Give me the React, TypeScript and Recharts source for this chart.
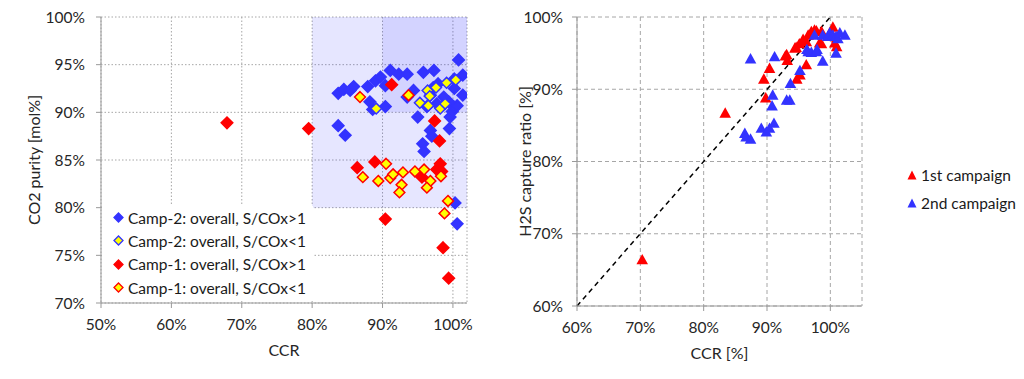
import React from "react";
import {
  CartesianGrid,
  Legend,
  ReferenceArea,
  ReferenceLine,
  Scatter,
  ScatterChart,
  XAxis,
  YAxis,
} from "recharts";

const FONT = "Lato, 'Open Sans', sans-serif";

// left chart: CCR [%] vs CO2 purity [mol%]
const camp2High: [number, number][] = [
  [83.7, 92.0], [84.5, 92.4], [85.4, 92.3], [85.9, 92.7], [87.9, 92.7], [89.0, 93.3],
  [89.7, 93.7], [91.1, 94.4], [92.3, 94.0], [93.5, 94.0], [95.8, 94.2], [97.3, 94.4],
  [100.8, 95.5], [101.4, 93.9], [101.4, 91.8], [100.2, 93.5], [100.2, 92.5], [90.4, 92.8],
  [88.2, 91.1], [88.6, 90.3], [90.4, 90.6], [95.0, 89.5], [83.7, 88.6], [84.7, 87.6],
  [95.7, 86.7], [95.9, 85.9], [96.8, 88.1], [97.0, 87.5], [99.5, 88.3], [99.6, 89.5],
  [99.9, 90.1], [100.1, 90.6], [100.6, 90.7], [99.4, 91.1], [98.7, 91.6], [97.7, 90.9],
  [97.9, 93.0], [97.2, 92.6], [94.4, 92.3], [93.5, 91.6], [96.3, 90.6], [96.8, 91.8],
  [100.3, 80.5], [100.6, 78.3],
];
const camp2Low: [number, number][] = [
  [89.1, 90.4], [95.3, 91.0], [96.4, 92.3], [96.7, 91.7], [96.5, 90.7], [97.6, 92.6],
  [98.2, 90.4], [98.9, 90.9], [99.1, 93.1], [100.4, 93.4],
];
const camp1High: [number, number][] = [
  [67.9, 88.9], [79.5, 88.3], [91.3, 92.9], [97.4, 89.1], [98.1, 87.0], [86.4, 84.2],
  [88.9, 84.8], [90.4, 78.8], [98.6, 75.8], [99.4, 72.6], [98.2, 84.6], [98.4, 83.8],
  [97.7, 84.0], [95.6, 83.2],
];
const camp1Low: [number, number][] = [
  [86.8, 91.6], [93.7, 91.8], [87.2, 83.2], [89.4, 82.8], [90.5, 84.6], [91.1, 83.1],
  [91.5, 83.5], [92.9, 83.7], [92.7, 82.4], [92.4, 81.6], [94.6, 83.8], [95.9, 84.0],
  [96.8, 82.8], [96.3, 82.1], [98.3, 83.3], [99.3, 80.7], [98.8, 79.4],
];
const leftNames = [
  "Camp-2: overall, S/COx>1",
  "Camp-2: overall, S/COx<1",
  "Camp-1: overall, S/COx>1",
  "Camp-1: overall, S/COx<1",
];
const leftXTicks = [50, 60, 70, 80, 90, 100];
const leftYTicks = [70, 75, 80, 85, 90, 95, 100];

// right chart: CCR [%] vs H2S capture ratio [%]
const campaign1: [number, number][] = [
  [70.3, 66.4], [83.4, 86.7], [89.8, 88.8], [89.5, 91.4], [90.4, 92.9], [92.9, 94.6],
  [93.2, 94.0], [93.1, 94.8], [94.4, 95.7], [94.6, 95.8], [95.1, 96.3], [95.7, 96.9],
  [96.2, 96.6], [96.5, 97.5], [97.0, 98.0], [97.5, 98.2], [97.8, 98.1], [98.6, 98.0],
  [98.3, 96.4], [98.6, 96.3], [100.4, 98.6], [100.7, 96.4], [101.0, 97.1], [101.0, 95.9],
  [96.2, 93.4], [95.2, 92.0], [94.7, 91.4],
];
const campaign2: [number, number][] = [
  [87.4, 94.2], [91.2, 94.5], [93.7, 90.8], [90.9, 89.2], [90.8, 87.7], [93.1, 88.5],
  [93.6, 88.5], [89.1, 84.6], [86.5, 83.9], [86.7, 83.4], [87.4, 83.1], [89.9, 84.1],
  [90.4, 84.6], [91.1, 85.3], [95.2, 92.6], [96.3, 95.5], [97.0, 95.1], [97.9, 95.5],
  [98.8, 93.9], [97.5, 97.5], [98.8, 97.5], [99.6, 97.3], [99.9, 97.8], [100.4, 97.5],
  [100.9, 97.3], [100.9, 95.0], [101.2, 97.0], [102.3, 97.5], [101.5, 97.8], [96.5, 95.2],
  [97.8, 95.2],
];
const rightNames = ["1st campaign", "2nd campaign"];
const rightTicks = [60, 70, 80, 90, 100];

const BLUE = "#3333ff";
const RED = "#ff0000";
const YELLOW = "#ffff00";

const pts = (a: [number, number][]) => a.map(([x, y]) => ({ x, y }));
const pct = (v: number) => `${v}%`;

const diamond = (fill: string, stroke: string, r: number) => (p: any) => {
  const { cx, cy } = p;
  if (cx == null || cy == null) return <g />;
  return (
    <polygon
      points={`${cx},${cy - r} ${cx + r},${cy} ${cx},${cy + r} ${cx - r},${cy}`}
      fill={fill}
      stroke={stroke}
      strokeWidth={1.5}
    />
  );
};

const triangle = (fill: string) => (p: any) => {
  const { cx, cy } = p;
  if (cx == null || cy == null) return <g />;
  return (
    <polygon
      points={`${cx},${cy - 5.8} ${cx + 5.8},${cy + 4.6} ${cx - 5.8},${cy + 4.6}`}
      fill={fill}
    />
  );
};

const leftStyles = [
  { fill: BLUE, stroke: BLUE },
  { fill: YELLOW, stroke: BLUE },
  { fill: RED, stroke: RED },
  { fill: YELLOW, stroke: RED },
];
const rightColors = [RED, BLUE];

const tickStyle = { fill: "#262626", fontSize: 15.5, fontFamily: FONT };
const labelStyle = { fill: "#262626", fontSize: 16, fontFamily: FONT, textAnchor: "middle" as const };

function LeftLegend() {
  return (
    <div style={{ background: "#fff", width: 211, height: 95, fontFamily: FONT, fontSize: 15.5, color: "#1a1a1a" }}>
      {leftNames.map((n, i) => (
        <div key={n} style={{ height: 23.3, display: "flex", alignItems: "center", whiteSpace: "nowrap" }}>
          <svg width={11} height={11} style={{ marginLeft: 11, marginRight: 4 }}>
            <polygon points="5.5,1 10,5.5 5.5,10 1,5.5" fill={leftStyles[i].fill} stroke={leftStyles[i].stroke} strokeWidth={1.3} />
          </svg>
          {n}
        </div>
      ))}
    </div>
  );
}

function RightLegend() {
  return (
    <div style={{ fontFamily: FONT, fontSize: 15.5, color: "#1a1a1a" }}>
      {rightNames.map((n, i) => (
        <div key={n} style={{ height: 28, display: "flex", alignItems: "center", whiteSpace: "nowrap" }}>
          <svg width={10} height={10} style={{ marginRight: 4 }}>
            <polygon points="5,0.5 9.5,9.5 0.5,9.5" fill={rightColors[i]} />
          </svg>
          {n}
        </div>
      ))}
    </div>
  );
}

export default function App() {
  return (
    <div style={{ position: "absolute", left: 0, top: 0, width: 1024, height: 379, background: "#fff" }}>
      <div style={{ position: "absolute", left: 0, top: 0 }}>
        <ScatterChart width={480} height={379} margin={{ top: 17, right: 13, bottom: 46, left: 0 }}>
          <CartesianGrid stroke="#a6a6a6" strokeDasharray="1.5 2" />
          <ReferenceArea x1={80} x2={102} y1={80} y2={100} fill={BLUE} fillOpacity={0.12} stroke="none" />
          <ReferenceArea x1={90} x2={102} y1={90} y2={100} fill={BLUE} fillOpacity={0.1} stroke="none" />
          <XAxis
            type="number"
            dataKey="x"
            domain={[50, 102]}
            ticks={leftXTicks}
            tickFormatter={pct}
            height={30}
            axisLine={{ stroke: "#999" }}
            tickLine={{ stroke: "#999" }}
            tickSize={5}
            tickMargin={11}
            tick={tickStyle}
            allowDataOverflow
            label={{ value: "CCR", position: "bottom", offset: 12, style: labelStyle }}
          />
          <YAxis
            type="number"
            dataKey="y"
            domain={[70, 100]}
            ticks={leftYTicks}
            tickFormatter={pct}
            width={101}
            axisLine={{ stroke: "#999" }}
            tickLine={{ stroke: "#999" }}
            tickSize={5}
            tickMargin={11}
            tick={tickStyle}
            allowDataOverflow
            label={{ value: "CO2 purity [mol%]", angle: -90, position: "insideLeft", offset: 34, style: labelStyle }}
          />
          <Scatter name={leftNames[0]} data={pts(camp2High)} shape={diamond(BLUE, BLUE, 5.8)} isAnimationActive={false} />
          <Scatter name={leftNames[1]} data={pts(camp2Low)} shape={diamond(YELLOW, BLUE, 5.4)} isAnimationActive={false} />
          <Scatter name={leftNames[2]} data={pts(camp1High)} shape={diamond(RED, RED, 5.8)} isAnimationActive={false} />
          <Scatter name={leftNames[3]} data={pts(camp1Low)} shape={diamond(YELLOW, RED, 5.4)} isAnimationActive={false} />
          <Legend
            layout="vertical"
            align="center"
            verticalAlign="middle"
            content={LeftLegend}
            wrapperStyle={{ left: 102, top: 206, width: 211, height: 95 }}
          />
        </ScatterChart>
      </div>
      <div style={{ position: "absolute", left: 480, top: 0 }}>
        <ScatterChart width={544} height={379} margin={{ top: 17, right: 162, bottom: 43, left: 0 }}>
          <CartesianGrid stroke="#a6a6a6" strokeDasharray="4 3" />
          <XAxis
            type="number"
            dataKey="x"
            domain={[60, 105]}
            ticks={rightTicks}
            tickFormatter={pct}
            height={30}
            axisLine={{ stroke: "#999" }}
            tickLine={{ stroke: "#999" }}
            tickSize={5}
            tickMargin={11}
            tick={tickStyle}
            allowDataOverflow
            label={{ value: "CCR [%]", position: "bottom", offset: 12, style: labelStyle }}
          />
          <YAxis
            type="number"
            dataKey="y"
            domain={[60, 100]}
            ticks={rightTicks}
            tickFormatter={pct}
            width={97}
            axisLine={{ stroke: "#999" }}
            tickLine={{ stroke: "#999" }}
            tickSize={5}
            tickMargin={9}
            tick={tickStyle}
            allowDataOverflow
            label={{ value: "H2S capture ratio [%]", angle: -90, position: "insideLeft", offset: 45, style: labelStyle }}
          />
          <ReferenceLine
            segment={[{ x: 60, y: 60 }, { x: 100, y: 100 }]}
            stroke="#000"
            strokeWidth={1.5}
            strokeDasharray="5 4"
          />
          <Scatter name={rightNames[0]} data={pts(campaign1)} shape={triangle(RED)} isAnimationActive={false} />
          <Scatter name={rightNames[1]} data={pts(campaign2)} shape={triangle(BLUE)} isAnimationActive={false} />
          <Legend
            layout="vertical"
            align="center"
            verticalAlign="middle"
            content={RightLegend}
            wrapperStyle={{ left: 427, top: 161, width: 117 }}
          />
        </ScatterChart>
      </div>
    </div>
  );
}
